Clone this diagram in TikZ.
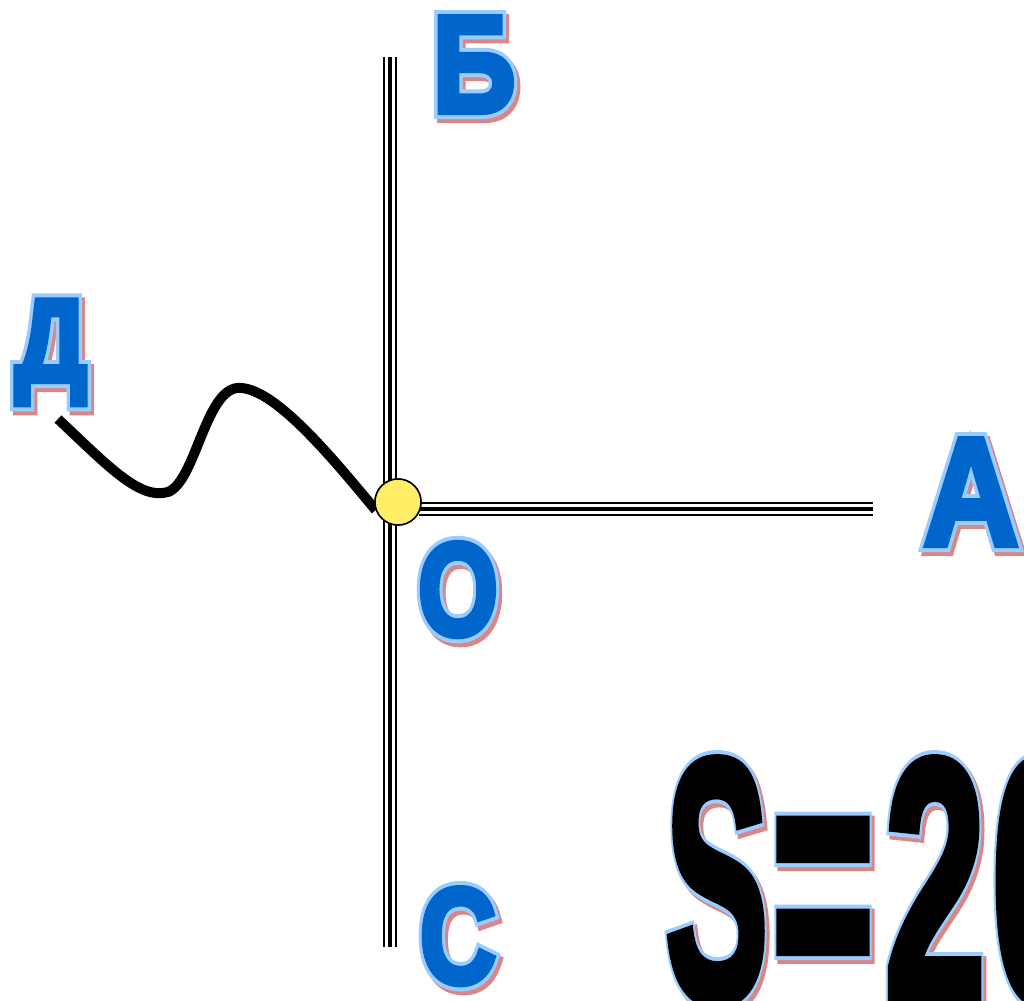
\documentclass[tikz,border=0pt]{standalone}
\usepackage{fontspec}
\usepackage{graphicx}
\usetikzlibrary{calc}
\newfontfamily\hvb{Liberation Sans}[UprightFont={* Bold}]
\definecolor{lblue}{HTML}{99CCFF}
\definecolor{mblue}{HTML}{0066CC}
\definecolor{shred}{HTML}{B80E0E}
\definecolor{dotyel}{HTML}{FFEE66}
\tikzset{
  lbl/.style={inner sep=0pt, outer sep=0pt, font=\hvb},
  rail/.style={line width=4pt, black,
    preaction={draw, black, line width=14pt},
    preaction={draw, white, line width=10pt}},
  wave/.style={line width=10pt, black},
  dot/.style={circle, draw=black, line width=1.5pt, fill=dotyel, minimum size=46pt, inner sep=0pt}
}
% #1 name, #2 anchor, #3 position, #4 size, #5 xscale, #6 main stroke, #7 fill, #8 text
\newcommand\fancylbl[8]{%
  \pgfmathsetmacro\mainb{#6*100/#4}%
  \pgfmathsetmacro\outb{(#6+8)*100/#4}%
  \edef\fsout{\noexpand\addfontfeatures{FakeBold=\outb}}%
  \edef\fsmain{\noexpand\addfontfeatures{FakeBold=\mainb}}%
  \node[lbl, anchor=#2, shred, opacity=.5] at ($(#3)+(3,4)$) {\fontsize{#4}{#4}\selectfont\fsout\scalebox{#5}[1]{#8}};
  \node[lbl, anchor=#2, lblue] at (#3) {\fontsize{#4}{#4}\selectfont\fsout\scalebox{#5}[1]{#8}};
  \node[lbl, anchor=#2, #7] (#1) at (#3) {\fontsize{#4}{#4}\selectfont\fsmain\scalebox{#5}[1]{#8}};
}
\newcommand\sformula{\scalebox{0.45}[1]{S}\kern3pt\scalebox{0.51}[1]{=}\kern10pt\scalebox{0.53}[1]{2}\kern5pt\scalebox{0.53}[1]{0}}
\begin{document}
\begin{tikzpicture}[x=1pt, y=-1pt]
\useasboundingbox[fill=white] (0,0) rectangle (1024,1000);
% axes
\coordinate (btop) at (390,57);
\coordinate (cbot) at (390,947);
\coordinate (hstart) at (419,509);
\coordinate (aend) at (873,509);
\coordinate (dend) at (58,419);
\draw[rail] (btop) -- (cbot);
\draw[rail] (hstart) -- (aend);
\node[dot] (o) at (398,502) {};
\draw[wave] (dend) .. controls (110,468) and (140,500) .. (168,492)
  .. controls (195,482) and (205,392) .. (237,388)
  .. controls (272,385) and (330,455) .. (o.200);
\node[dot] at (o) {};
% labels
\fancylbl{lb}{base}{474,112}{138}{0.84}{6}{mblue}{Б}
\fancylbl{ld}{base}{51,381}{117}{0.86}{6}{mblue}{Д}
\fancylbl{la}{base}{971,545}{154}{0.86}{6}{mblue}{А}
\fancylbl{lo}{base}{458,635}{132}{0.78}{6}{mblue}{О}
\fancylbl{lc}{base}{458,983}{136}{0.78}{6}{mblue}{С}
\fancylbl{ls}{base west}{665,1000}{345}{1}{10}{black}{\sformula}
\end{tikzpicture}
\end{document}
